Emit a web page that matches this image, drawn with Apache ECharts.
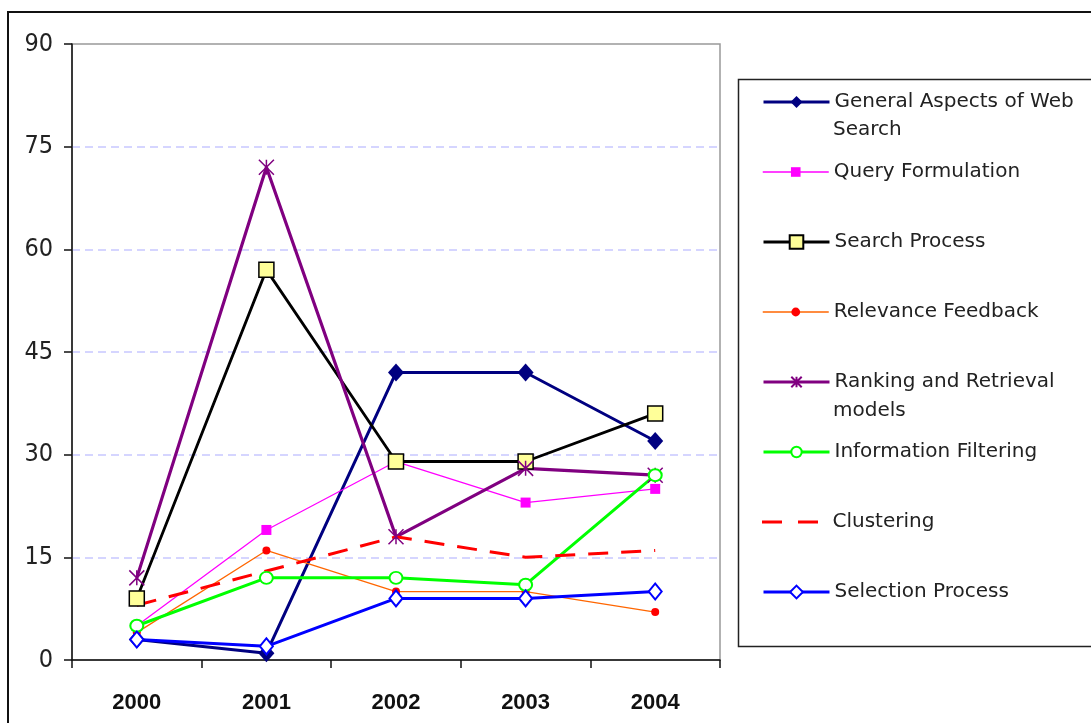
<!DOCTYPE html>
<html>
<head>
<meta charset="utf-8">
<script src="https://cdn.jsdelivr.net/npm/echarts@6/dist/echarts.min.js"></script>
<style>
html,body{margin:0;padding:0;background:#fff;}
#chart{width:1091px;height:723px;}
</style>
</head>
<body>
<div id="chart"></div>
<script>
const years = ['2000', '2001', '2002', '2003', '2004'];
const seriesNames = [
  'General Aspects of Web Search',
  'Query Formulation',
  'Search Process',
  'Relevance Feedback',
  'Ranking and Retrieval models',
  'Information Filtering',
  'Clustering',
  'Selection Process'
];
const generalAspects = [3, 1, 42, 42, 32];
const queryFormulation = [5, 19, 29, 23, 25];
const searchProcess = [9, 57, 29, 29, 36];
const relevanceFeedback = [4, 16, 10, 10, 7];
const rankingRetrieval = [12, 72, 18, 28, 27];
const informationFiltering = [5, 12, 12, 11, 27];
const clustering = [8, 13, 18, 15, 16];
const selectionProcess = [3, 2, 9, 9, 10];
const yTicks = { min: 0, max: 90, interval: 15 };

const starPath = 'path://M0 0L10 10M10 0L0 10M5 0L5 10';

const chart = echarts.init(document.getElementById('chart'), null, { renderer: 'canvas' });

const legendFont = { fontFamily: 'DejaVu Sans', fontSize: 20, color: '#222', lineHeight: 20 };
const legendCenters = [102, 172, 242, 312, 382, 452, 522, 592];
const legendIconH = [15, 12, 17, 11, 13, 13, 3, 16];
const legendLineW = [3, 1.5, 3, 1.5, 3, 3, 3, 3];

function mkLegend(i, extra) {
  const h = legendIconH[i];
  const boxH = Math.max(h, 20);
  return Object.assign({
    show: true,
    left: 762,
    top: legendCenters[i] - boxH / 2,
    padding: 0,
    orient: 'vertical',
    selectedMode: false,
    itemWidth: 66,
    itemHeight: h,
    textStyle: legendFont,
    lineStyle: { width: legendLineW[i] },
    data: [seriesNames[i]]
  }, extra || {});
}

const option = {
  backgroundColor: '#fff',
  animation: false,
  grid: {
    left: 72, right: 371, top: 44, bottom: 63,
    show: true, borderColor: '#999', borderWidth: 1.5, backgroundColor: 'transparent'
  },
  xAxis: {
    type: 'category',
    data: years,
    boundaryGap: true,
    axisLine: { lineStyle: { color: '#111', width: 1.5 } },
    axisTick: { show: true, length: 8, inside: false, lineStyle: { color: '#111', width: 1.5 } },
    axisLabel: { fontFamily: 'Liberation Sans', fontWeight: 'bold', fontSize: 22, color: '#111', margin: 32 },
    splitLine: { show: false }
  },
  yAxis: {
    type: 'value',
    min: yTicks.min, max: yTicks.max, interval: yTicks.interval,
    axisLine: { show: true, lineStyle: { color: '#111', width: 1.5 } },
    axisTick: { show: true, length: 8, lineStyle: { color: '#111', width: 1.5 } },
    axisLabel: { fontFamily: 'DejaVu Sans Condensed', fontSize: 25, color: '#222', margin: 19 },
    splitLine: {
      show: true,
      lineStyle: {
        color: ['rgba(0,0,0,0)', '#c8c8ff', '#c8c8ff', '#c8c8ff', '#c8c8ff', '#c8c8ff', 'rgba(0,0,0,0)'],
        width: 1.5, type: [8, 5]
      }
    }
  },
  legend: [
    mkLegend(0, { formatter: () => 'General Aspects of Web' }),
    mkLegend(1),
    mkLegend(2),
    mkLegend(3),
    mkLegend(4, { formatter: () => 'Ranking and Retrieval' }),
    mkLegend(5),
    mkLegend(6, { icon: 'path://M0,0H20V3H0Z M36,0H56V3H36Z M65,0L65,3', itemStyle: { borderWidth: 0 } }),
    mkLegend(7)
  ],
  graphic: [
    { type: 'rect', silent: true, z: 100, shape: { x: 8, y: 12, width: 1200, height: 800 },
      style: { fill: 'none', stroke: '#111', lineWidth: 2 } },
    { type: 'rect', silent: true, z: 100, shape: { x: 738.5, y: 79.5, width: 500, height: 567 },
      style: { fill: 'none', stroke: '#222', lineWidth: 1.5 } },
    { type: 'text', silent: true, left: 833, top: 130 - 10,
      style: { text: 'Search', font: '20px "DejaVu Sans"', fill: '#222', lineHeight: 20 } },
    { type: 'text', silent: true, left: 833, top: 411 - 10,
      style: { text: 'models', font: '20px "DejaVu Sans"', fill: '#222', lineHeight: 20 } }
  ],
  series: [
    {
      name: seriesNames[0], type: 'line', data: generalAspects,
      symbol: 'diamond', symbolSize: [16, 18],
      lineStyle: { color: '#000080', width: 3 },
      itemStyle: { color: '#000080' }
    },
    {
      name: seriesNames[1], type: 'line', data: queryFormulation,
      symbol: 'rect', symbolSize: 10,
      lineStyle: { color: '#ff00ff', width: 1.3 },
      itemStyle: { color: '#ff00ff' }
    },
    {
      name: seriesNames[2], type: 'line', data: searchProcess,
      symbol: 'rect', symbolSize: 15,
      lineStyle: { color: '#000000', width: 2.8 },
      itemStyle: { color: '#ffff99', borderColor: '#000', borderWidth: 1.5 }
    },
    {
      name: seriesNames[3], type: 'line', data: relevanceFeedback,
      symbol: 'circle', symbolSize: 8,
      lineStyle: { color: '#ff6600', width: 1.3 },
      itemStyle: { color: '#ff0000' }
    },
    {
      name: seriesNames[4], type: 'line', data: rankingRetrieval,
      symbol: starPath, symbolSize: 15,
      lineStyle: { color: '#800080', width: 3.2 },
      itemStyle: { color: '#800080', borderColor: '#800080', borderWidth: 1.5 }
    },
    {
      name: seriesNames[5], type: 'line', data: informationFiltering,
      symbol: 'emptyCircle', symbolSize: [13, 12],
      lineStyle: { color: '#00ff00', width: 3 },
      itemStyle: { color: '#00ff00', borderColor: '#00ff00', borderWidth: 1.2 }
    },
    {
      name: seriesNames[6], type: 'line', data: clustering,
      symbol: 'none',
      lineStyle: { color: '#ff0000', width: 3, type: [20, 13] },
      itemStyle: { color: '#ff0000' }
    },
    {
      name: seriesNames[7], type: 'line', data: selectionProcess,
      symbol: 'emptyDiamond', symbolSize: [13, 16],
      lineStyle: { color: '#0000ff', width: 3 },
      itemStyle: { color: '#0000ff', borderColor: '#0000ff', borderWidth: 1.2 }
    }
  ]
};

chart.setOption(option);
</script>
</body>
</html>
